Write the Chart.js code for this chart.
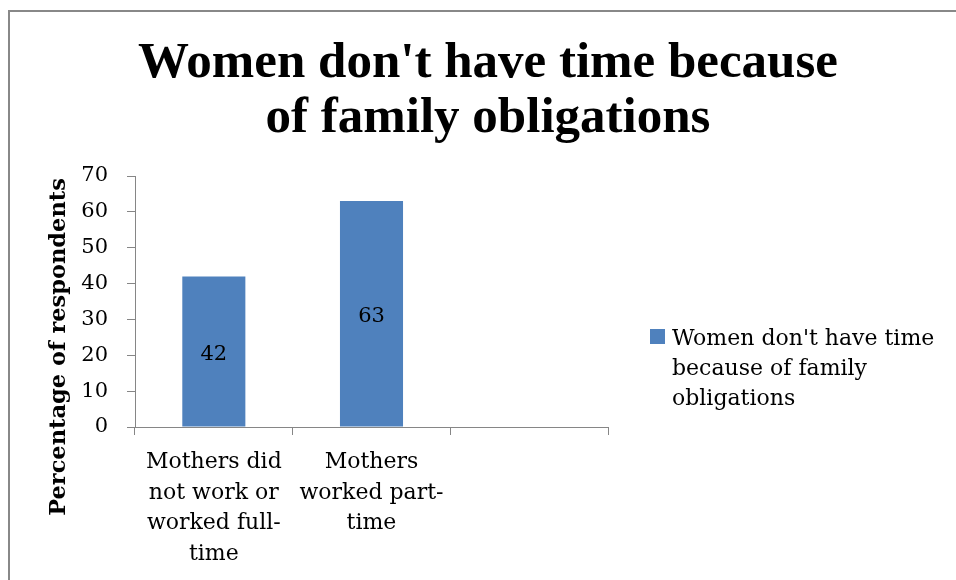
<!DOCTYPE html>
<html>
<head>
<meta charset="utf-8">
<script src="https://cdn.jsdelivr.net/npm/chart.js@4/dist/chart.umd.min.js"></script>
<style>
  html, body { margin: 0; padding: 0; background: #fff; }
  #wrap { width: 956px; height: 580px; position: relative; }
</style>
</head>
<body>
<div id="wrap"><canvas id="c" width="956" height="580"></canvas></div>
<script>
// Chart content
const chartTitle = ["Women don't have time because", "of family obligations"];
const categories = [
  ["Mothers did", "not work or", "worked full-", "time"],
  ["Mothers", "worked part-", "time"],
  ""
];
const seriesName = "Women don't have time because of family obligations";
const seriesValues = [42, 63, null];
const yMin = 0;
const yMax = 70;
const yStep = 10;
const yAxisTitle = "Percentage of respondents";

const BAR_BLUE = '#4F81BD';
const AXIS_GREY = '#868686';
const SERIF = "'DejaVu Serif', serif";

// Frame, title, axis title, value labels and legend drawn on the canvas
const decorations = {
  id: 'decorations',
  beforeDraw(chart) {
    const ctx = chart.ctx;
    ctx.save();
    ctx.fillStyle = '#fff';
    ctx.fillRect(0, 0, chart.width, chart.height);
    ctx.strokeStyle = '#888';
    ctx.lineWidth = 2;
    ctx.beginPath();
    ctx.moveTo(9, chart.height);
    ctx.lineTo(9, 11);
    ctx.lineTo(chart.width, 11);
    ctx.stroke();
    ctx.restore();
  },
  afterDatasetsDraw(chart) {
    const ctx = chart.ctx;
    const meta = chart.getDatasetMeta(0);
    const values = chart.data.datasets[0].data;
    ctx.save();
    ctx.font = '21px ' + SERIF;
    ctx.fillStyle = '#000';
    ctx.textAlign = 'center';
    ctx.textBaseline = 'middle';
    meta.data.forEach((bar, i) => {
      const v = values[i];
      if (v === null || v === undefined) return;
      const mid = (bar.y + bar.base) / 2;
      ctx.fillText(String(v), bar.x, mid + 3);
    });
    ctx.restore();
  },
  afterDraw(chart) {
    const ctx = chart.ctx;
    ctx.save();
    // Title
    ctx.fillStyle = '#000';
    ctx.font = "bold 51px 'Liberation Serif', serif";
    ctx.textAlign = 'center';
    ctx.textBaseline = 'alphabetic';
    chartTitle.forEach((line, i) => ctx.fillText(line, 488, 77 + i * 55));

    // Y axis title
    ctx.save();
    ctx.font = 'bold 22.5px ' + SERIF;
    ctx.translate(59, 347);
    ctx.rotate(-Math.PI / 2);
    ctx.textAlign = 'center';
    ctx.textBaseline = 'middle';
    ctx.fillText(yAxisTitle, 0, 0);
    ctx.restore();

    // Legend with wrapped series name
    const lx = 650, ly = 329, box = 15;
    ctx.fillStyle = BAR_BLUE;
    ctx.fillRect(lx, ly, box, box);
    ctx.fillStyle = '#000';
    ctx.font = '22px ' + SERIF;
    ctx.textAlign = 'left';
    ctx.textBaseline = 'alphabetic';
    const words = chart.data.datasets[0].label.split(' ');
    const lines = [];
    let cur = '';
    words.forEach(w => {
      const test = cur ? cur + ' ' + w : w;
      if (ctx.measureText(test).width > 280 && cur) { lines.push(cur); cur = w; }
      else cur = test;
    });
    if (cur) lines.push(cur);
    lines.forEach((ln, i) => ctx.fillText(ln, lx + 22, 345 + i * 30));
    ctx.restore();
  }
};

new Chart(document.getElementById('c'), {
  type: 'bar',
  data: {
    labels: categories,
    datasets: [{
      label: seriesName,
      data: seriesValues,
      backgroundColor: BAR_BLUE,
      borderWidth: 0,
      categoryPercentage: 1,
      barPercentage: 0.4
    }]
  },
  options: {
    responsive: false,
    devicePixelRatio: 1,
    animation: false,
    layout: { padding: { top: 176, left: 0, right: 348, bottom: 0 } },
    plugins: {
      legend: { display: false },
      title: { display: false },
      tooltip: { enabled: false }
    },
    scales: {
      x: {
        type: 'category',
        offset: true,
        grid: { display: true, drawOnChartArea: false, offset: true, tickLength: 8, color: AXIS_GREY, lineWidth: 1 },
        border: { color: AXIS_GREY, width: 1 },
        ticks: { color: '#000', font: { family: SERIF, size: 22, lineHeight: 1.39 }, padding: 12, maxRotation: 0, autoSkip: false },
        afterFit(scale) { scale.height = 153; }
      },
      y: {
        min: yMin,
        max: yMax,
        grid: { display: true, drawOnChartArea: false, tickLength: 8, color: AXIS_GREY, lineWidth: 1 },
        border: { color: AXIS_GREY, width: 1 },
        ticks: { stepSize: yStep, color: '#000', font: { family: SERIF, size: 21 }, padding: 19 },
        afterFit(scale) { scale.width = 135; }
      }
    }
  },
  plugins: [decorations]
});
</script>
</body>
</html>
